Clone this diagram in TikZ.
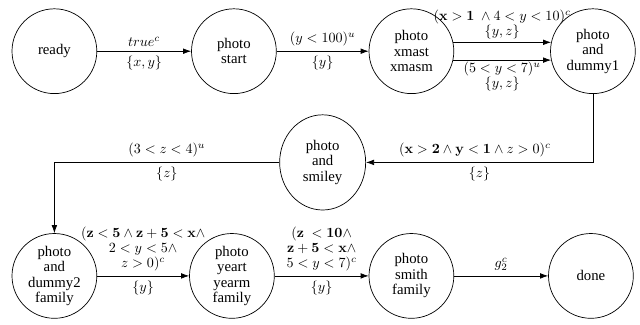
\documentclass[tikz,border=0pt]{standalone}
\usepackage{amsmath}
\usepackage{amssymb}
\usepackage[no-math]{fontspec}
\setmainfont{Liberation Serif}
\usetikzlibrary{arrows.meta, positioning, shapes.geometric, calc}

\begin{document}
\begin{tikzpicture}[
  >={Latex[length=2mm,width=1.4mm]}, line width=0.5pt,
  state/.style = {draw, circle, minimum size=2.12cm, inner sep=1pt, align=center,
                  font=\fontsize{10.5}{11}\selectfont},
  oval/.style  = {draw, ellipse, minimum width=2.15cm, minimum height=2.38cm, inner sep=1pt,
                  align=center, font=\fontsize{10.5}{11}\selectfont},
  lbl/.style   = {align=center, font=\fontsize{10}{10.6}\selectfont},
]
  \node[state]                          (ready)  {ready};
  \node[state, right=2.35cm of ready]   (start)  {photo\\start};
  \node[state, right=2.3cm of start]    (xmast)  {photo\\xmast\\xmasm};
  \node[state, right=2.4cm of xmast]    (dummy1) {photo\\and\\dummy1};
  \node[oval] (smiley) at ($(start)!0.5!(xmast)+(0,-2.78)$) {photo\\and\\smiley};

  \node[state, below=3.48cm of ready]   (dummy2) {photo\\and\\dummy2\\family};
  \node[state, right=2.3cm of dummy2]   (yeart)  {photo\\yeart\\yearm\\family};
  \node[state, right=2.35cm of yeart]   (smith)  {photo\\smith\\family};
  \node[state, right=2.35cm of smith]   (done)   {done};

  \path[use as bounding box] ($(ready.center)+(-1.36,1.28)$) rectangle ++(16,-8.1);

  \draw[->] (ready) -- node[lbl,above]{$true^c$} node[lbl,below]{$\{x,y\}$} (start);
  \draw[->] (start) -- node[lbl,above]{$(y<100)^u$} node[lbl,below]{$\{y\}$} (xmast);
  \draw[->] (xmast.12) -- node[lbl,above,yshift=-1pt]
      {$(\mathbf{x}>\mathbf{1}\ \wedge 4<y<10)^c$\\$\{y,z\}$} (dummy1.168);
  \draw[->] (xmast.-12) -- node[lbl,below,yshift=2pt]
      {$(5<y<7)^u$\\$\{y,z\}$} (dummy1.-168);

  \draw[->] (dummy1.south) |-
      node[lbl,above,pos=0.76]{$(\mathbf{x}>\mathbf{2}\wedge\mathbf{y}<\mathbf{1}\wedge z>0)^c$}
      node[lbl,below,pos=0.75]{$\{z\}$} (smiley.east);
  \draw[->] (smiley.west) -|
      node[lbl,above,pos=0.25]{$(3<z<4)^u$}
      node[lbl,below,pos=0.25]{$\{z\}$} (dummy2.north);

  \draw[->] (dummy2) -- node[lbl,above]
      {$(\mathbf{z}<\mathbf{5}\wedge\mathbf{z}+\mathbf{5}<\mathbf{x}\wedge$\\$2<y<5\wedge$\\$z>0)^c$}
      node[lbl,below]{$\{y\}$} (yeart);
  \draw[->] (yeart) -- node[lbl,above]
      {$(\mathbf{z}\ <\mathbf{10}\wedge$\\$\mathbf{z}+\mathbf{5}<\mathbf{x}\wedge$\\$5<y<7)^c$}
      node[lbl,below]{$\{y\}$} (smith);
  \draw[->] (smith) -- node[lbl,above]{$g_2^c$} (done);
\end{tikzpicture}
\end{document}
